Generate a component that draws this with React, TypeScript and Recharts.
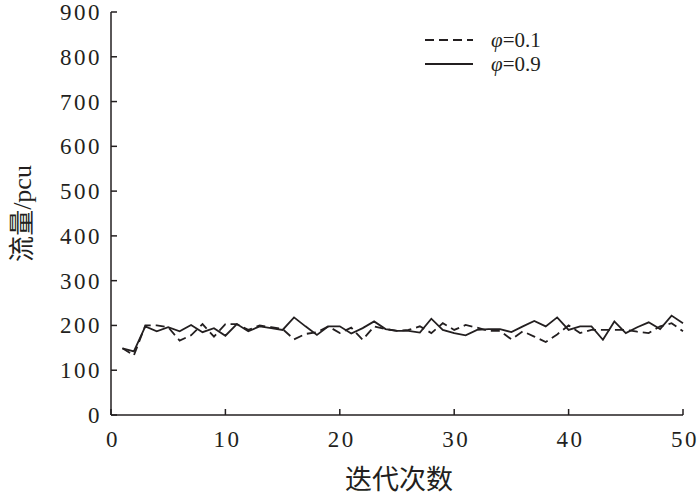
import React from 'react';
import { LineChart, Line, XAxis, YAxis, Legend, Label } from 'recharts';

const iterations = [
  1, 2, 3, 4, 5, 6, 7, 8, 9, 10, 11, 12, 13, 14, 15, 16, 17, 18, 19, 20, 21, 22, 23, 24, 25,
  26, 27, 28, 29, 30, 31, 32, 33, 34, 35, 36, 37, 38, 39, 40, 41, 42, 43, 44, 45, 46, 47, 48, 49, 50,
];

// φ=0.1 (dashed)
const flowPhi01 = [
  149, 133, 200, 200, 196, 166, 178, 203, 175, 203, 203, 190, 200, 196, 192, 169, 181, 185, 198, 183,
  195, 168, 198, 192, 188, 190, 198, 183, 205, 190, 201, 195, 188, 188, 169, 187, 175, 163, 180, 200,
  183, 190, 190, 190, 190, 186, 183, 198, 205, 187,
];

// φ=0.9 (solid)
const flowPhi09 = [
  149, 142, 198, 187, 196, 187, 201, 185, 194, 177, 203, 187, 198, 194, 190, 218, 198, 179, 198, 198,
  182, 194, 209, 192, 188, 188, 184, 215, 190, 183, 178, 190, 192, 192, 185, 198, 210, 198, 218, 190,
  198, 198, 168, 209, 183, 196, 207, 192, 222, 205,
];

const xTicks = [0, 10, 20, 30, 40, 50];
const yTicks = [0, 100, 200, 300, 400, 500, 600, 700, 800, 900];

const ink = '#231f20';
const serif = '"Liberation Serif", "Times New Roman", serif';
const titleFont = '"Liberation Serif", "Noto Sans CJK SC", serif';

const data = iterations.map((it, i) => ({ it, a: flowPhi01[i], b: flowPhi09[i] }));

function YTick({ x, y, payload }: any) {
  return (
    <text x={x} y={y} dy={8} textAnchor="end" fill={ink} fontSize={23} fontFamily={serif} letterSpacing={2.5}>
      {payload.value}
    </text>
  );
}

function XTick({ x, y, payload }: any) {
  return (
    <text x={x} y={y} dx={2} dy={16} textAnchor="middle" fill={ink} fontSize={23} fontFamily={serif} letterSpacing={2.5}>
      {payload.value}
    </text>
  );
}

function PhiLabel({ text }: { text: string }) {
  const rest = text.replace('φ', '');
  return (
    <span>
      <i>φ</i>
      {rest}
    </span>
  );
}

function LegendBox({ payload }: any) {
  return (
    <div style={{ fontFamily: serif, fontSize: 21, color: ink, lineHeight: '24px' }}>
      {(payload || []).map((p: any) => (
        <div key={p.value} style={{ display: 'flex', alignItems: 'center' }}>
          <svg width={50} height={24} style={{ marginRight: 17 }}>
            <line
              x1={1}
              x2={49}
              y1={12}
              y2={12}
              stroke={ink}
              strokeWidth={1.8}
              strokeDasharray={p.payload && p.payload.strokeDasharray}
            />
          </svg>
          <PhiLabel text={p.value} />
        </div>
      ))}
    </div>
  );
}

export default function App() {
  return (
    <div style={{ position: 'absolute', left: 0, top: 0, width: 700, height: 498, background: '#fff' }}>
      <LineChart width={700} height={498} data={data} margin={{ top: 12, right: 17, bottom: 0, left: 0 }}>
        <XAxis
          dataKey="it"
          type="number"
          domain={[0, 50]}
          ticks={xTicks}
          height={83}
          stroke={ink}
          strokeWidth={1.5}
          tickSize={-6}
          tickMargin={22}
          tick={<XTick />}
        >
          <Label
            content={({ viewBox }: any) => (
              <text
                x={viewBox.x + viewBox.width / 2 + 2}
                y={viewBox.y + viewBox.height - 9}
                textAnchor="middle"
                fill={ink}
                fontSize={27}
                fontFamily={titleFont}
              >
                迭代次数
              </text>
            )}
          />
        </XAxis>
        <YAxis
          type="number"
          domain={[0, 900]}
          ticks={yTicks}
          width={111}
          stroke={ink}
          strokeWidth={1.5}
          tickSize={-6}
          tickMargin={15}
          tick={<YTick />}
        >
          <Label
            content={({ viewBox }: any) => {
              const cy = viewBox.y + viewBox.height / 2;
              return (
                <text
                  x={22}
                  y={cy}
                  transform={`rotate(-90, 22, ${cy})`}
                  textAnchor="middle"
                  dominantBaseline="central"
                  fill={ink}
                  fontSize={26}
                  fontFamily={titleFont}
                >
                  流量/pcu
                </text>
              );
            }}
          />
        </YAxis>
        <Legend
          layout="vertical"
          align="center"
          verticalAlign="middle"
          content={<LegendBox />}
          wrapperStyle={{ left: 424, top: 28, width: 200 }}
        />
        <Line
          dataKey="a"
          name="φ=0.1"
          stroke={ink}
          strokeWidth={1.8}
          strokeDasharray="9 5"
          dot={false}
          isAnimationActive={false}
        />
        <Line
          dataKey="b"
          name="φ=0.9"
          stroke={ink}
          strokeWidth={1.8}
          dot={false}
          isAnimationActive={false}
        />
      </LineChart>
    </div>
  );
}
